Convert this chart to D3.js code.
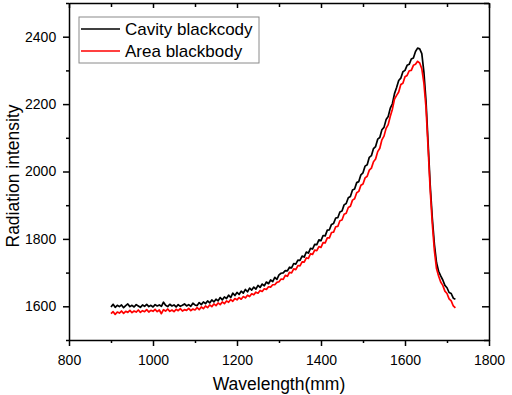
<!DOCTYPE html>
<html lang="en">
<head>
<meta charset="UTF-8" />
<title>Radiation intensity</title>
<script src="https://d3js.org/d3.v7.min.js"></script>
<style>
  body { margin: 0; background: #fff; }
  svg { display: block; font-family: Arial, "Liberation Sans", sans-serif; }
  .axis path, .axis line { stroke: #000; stroke-width: 1.5; }
  .axis text { font-size: 14px; fill: #000; }
</style>
</head>
<body>
<script>
// x grid: 900..1720 nm, every 5
const wavelength = d3.range(900, 1721, 5);

const cavity = [
  1598, 1606, 1597, 1603, 1599, 1604, 1596, 1602, 1607, 1599,
  1603, 1598, 1605, 1601, 1597, 1604, 1600, 1606, 1599, 1603,
  1598, 1605, 1601, 1604, 1600, 1612, 1603, 1599, 1606, 1601,
  1604, 1598, 1605, 1600, 1603, 1607, 1601, 1605, 1600, 1609,
  1604,
  1602, 1611, 1605, 1613, 1608, 1616, 1610, 1619, 1613, 1621,
  1616, 1626, 1619, 1628, 1623, 1633, 1626, 1639, 1632, 1641,
  1635, 1645, 1639, 1650, 1643, 1654, 1648, 1657, 1651, 1662,
  1656, 1666, 1661, 1672, 1667, 1678, 1673, 1686, 1680, 1693,
  1698, 1699, 1706, 1705, 1716, 1714, 1727, 1725, 1737, 1736,
  1749, 1746, 1761, 1758, 1772, 1770, 1784, 1783, 1797, 1795,
  1810, 1809, 1826, 1827, 1843, 1846, 1862, 1863, 1880, 1883,
  1901, 1905, 1922, 1926, 1945, 1948, 1967, 1970, 1990, 1996,
  2016, 2020, 2042, 2047, 2068, 2074, 2096, 2101, 2124, 2131,
  2154, 2163, 2188, 2201, 2231, 2249, 2270, 2277, 2296, 2300,
  2315, 2318, 2334, 2337, 2356, 2366, 2364, 2350, 2295, 2210,
  2085, 1960, 1862, 1784, 1730, 1704, 1690, 1678, 1662, 1655,
  1641, 1638, 1624, 1621
];

const area = [
  1578, 1584, 1576, 1583, 1580, 1586, 1579, 1585, 1582, 1588,
  1581, 1586, 1583, 1589, 1582, 1587, 1584, 1590, 1583, 1588,
  1585, 1591, 1584, 1589, 1578, 1590, 1586, 1592, 1585, 1589,
  1584, 1591, 1587, 1593, 1586, 1590, 1588, 1594, 1587, 1592,
  1589,
  1596, 1590, 1598, 1593, 1601, 1596, 1604, 1599, 1607, 1602,
  1610, 1605, 1613, 1608, 1616, 1612, 1620, 1615, 1623, 1619,
  1626, 1621, 1629, 1625, 1633, 1629, 1637, 1634, 1642, 1639,
  1647, 1644, 1652, 1650, 1658, 1657, 1664, 1664, 1671, 1673,
  1681, 1680, 1692, 1689, 1701, 1699, 1711, 1709, 1721, 1720,
  1732, 1731, 1744, 1742, 1756, 1754, 1767, 1765, 1777, 1775,
  1789, 1788, 1803, 1803, 1819, 1820, 1836, 1837, 1854, 1856,
  1873, 1876, 1893, 1897, 1915, 1919, 1937, 1941, 1959, 1963,
  1981, 1986, 2004, 2010, 2029, 2037, 2059, 2069, 2094, 2105,
  2128, 2139, 2164, 2185, 2215, 2226, 2236, 2258, 2262, 2281,
  2285, 2299, 2300, 2315, 2318, 2327, 2322, 2305, 2262, 2190,
  2070, 1945, 1845, 1765, 1712, 1690, 1672, 1662, 1645, 1638,
  1622, 1616, 1601, 1595
];

const xMajor = [800, 1000, 1200, 1400, 1600, 1800];
const xMinor = [900, 1100, 1300, 1500, 1700];
const yMajor = [1600, 1800, 2000, 2200, 2400];
const yMinor = [1500, 1700, 1900, 2100, 2300, 2500];

const seriesNames = ["Cavity blackcody", "Area blackbody"];
const seriesColors = ["#000000", "#ff0000"];

const W = 512, H = 395;
const mLeft = 69, mRight = 489, mTop = 3, mBottom = 340;

const svg = d3.select("body").append("svg")
    .attr("width", W)
    .attr("height", H);

const x = d3.scaleLinear().domain([800, 1800]).range([mLeft, mRight]);
const y = d3.scaleLinear().domain([1500, 2500]).range([mBottom, mTop]);

// axes (bottom/left ticks out, top/right ticks in)
function axisPair(gen, scale, tr, major, minor, majLen, minLen, labels) {
  svg.append("g").attr("class", "axis")
      .attr("transform", tr)
      .call(gen(scale).tickValues(minor).tickSize(minLen).tickSizeOuter(0).tickFormat(""))
      .select(".domain").remove();
  const g = svg.append("g").attr("class", "axis")
      .attr("transform", tr)
      .call(gen(scale).tickValues(major).tickSize(majLen).tickSizeOuter(0)
        .tickPadding(4).tickFormat(labels ? d3.format("d") : ""));
  return g;
}

axisPair(d3.axisBottom, x, `translate(0,${mBottom})`, xMajor, xMinor, 6, 3, true)
  .selectAll("text").attr("dy", "1.1em");
axisPair(d3.axisLeft, y, `translate(${mLeft},0)`, yMajor, yMinor, 6, 3, true)
  .selectAll("text").attr("dx", "-0.2em");
axisPair(d3.axisTop, x, `translate(0,${mTop})`, xMajor, xMinor, -5, -4, false);
axisPair(d3.axisRight, y, `translate(${mRight},0)`, yMajor, yMinor, -7, -5, false);

// lines
const line = d3.line()
    .x((d, i) => x(wavelength[i]))
    .y(d => y(d));

[cavity, area].forEach((s, k) => {
  svg.append("path")
      .datum(s)
      .attr("fill", "none")
      .attr("stroke", seriesColors[k])
      .attr("stroke-width", 1.7)
      .attr("stroke-linejoin", "round")
      .attr("d", line);
});

// axis titles
svg.append("text")
    .attr("x", (mLeft + mRight) / 2)
    .attr("y", 390)
    .attr("text-anchor", "middle")
    .attr("font-size", "17.5px")
    .text("Wavelength(mm)");

svg.append("text")
    .attr("transform", "translate(18.5,176) rotate(-90)")
    .attr("text-anchor", "middle")
    .attr("font-size", "17.5px")
    .text("Radiation intensity");

// legend
const lg = svg.append("g").attr("transform", "translate(79,17)");
lg.append("rect")
    .attr("width", 180).attr("height", 46)
    .attr("fill", "#fff")
    .attr("stroke", "#8a8a8a")
    .attr("stroke-width", 1);
seriesNames.forEach((n, k) => {
  const yy = 12 + k * 22;
  lg.append("line")
      .attr("x1", 2).attr("x2", 41)
      .attr("y1", yy).attr("y2", yy)
      .attr("stroke", seriesColors[k])
      .attr("stroke-width", 1.7);
  lg.append("text")
      .attr("x", 46).attr("y", yy)
      .attr("dy", "0.35em")
      .attr("font-size", "17px")
      .text(n);
});
</script>
</body>
</html>
